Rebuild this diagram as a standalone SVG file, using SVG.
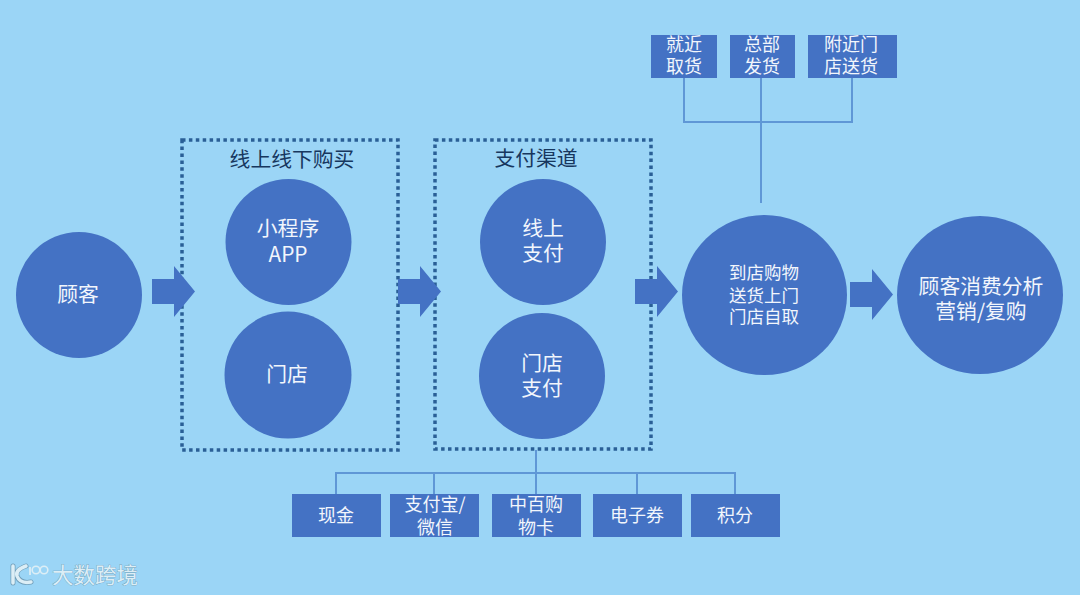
<svg xmlns="http://www.w3.org/2000/svg" width="1080" height="595" viewBox="0 0 1080 595">
<defs>
<style>
.n{fill:#4472C4}
.t{fill:#F2F6FC;font-family:"Noto Sans CJK SC","Noto Sans",sans-serif;text-anchor:middle}
.c{font-size:20.800px}
.s{font-size:18px}
.b{font-size:17.500px}
.h{fill:#17375E;font-family:"Noto Sans CJK SC",sans-serif;font-size:20.800px;text-anchor:middle}
.d{fill:none;stroke:#2A5F96;stroke-width:3.500;stroke-dasharray:3.500 3.400}
.l{fill:none;stroke:#5F97D6;stroke-width:2}
</style>
<path id="arrow" class="n" d="M0 13H22V0L43 25.500L22 51V38H0Z"/>
</defs>
<rect width="1080" height="595" fill="#9BD5F6"/>
<g id="group-buy"><rect class="d" x="182" y="140" width="216" height="310"/><text class="h" x="292" y="167">线上线下购买</text></g>
<g id="group-pay"><rect class="d" x="435" y="140" width="216" height="309"/><text class="h" x="536" y="166">支付渠道</text></g>
<g id="connectors">
<path class="l" d="M536 450V473M336 494V473H735V494M434 473V494M536 473V494M637 473V494"/>
<path class="l" d="M684 78V122H852V78M761 78V203"/>
<use href="#arrow" x="152" y="266"/>
<use href="#arrow" x="398" y="266"/>
<use href="#arrow" x="635" y="266"/>
<use href="#arrow" x="850" y="269"/>
</g>
<g id="customer"><circle class="n" cx="79" cy="295" r="63"/><text class="t c" x="78" y="302">顾客</text></g>
<g id="miniapp"><circle class="n" cx="288.500" cy="242" r="63"/><text class="t c" x="288" y="236">小程序</text><text class="t c" x="288" y="262">APP</text></g>
<g id="store"><circle class="n" cx="288" cy="375" r="63.500"/><text class="t c" x="287" y="382">门店</text></g>
<g id="online-pay"><circle class="n" cx="543" cy="242" r="63"/><text class="t c" x="543" y="236">线上</text><text class="t c" x="543" y="261">支付</text></g>
<g id="store-pay"><circle class="n" cx="542" cy="376" r="63"/><text class="t c" x="542" y="371">门店</text><text class="t c" x="542" y="396">支付</text></g>
<g id="delivery"><ellipse class="n" cx="764.500" cy="295" rx="82.500" ry="80"/><text class="t b" x="764" y="279">到店购物</text><text class="t b" x="764" y="302">送货上门</text><text class="t b" x="764" y="323">门店自取</text></g>
<g id="analysis"><ellipse class="n" cx="980" cy="295" rx="83" ry="79"/><text class="t c" x="981" y="294">顾客消费分析</text><text class="t c" x="981" y="319">营销/复购</text></g>
<g id="cash"><rect class="n" x="292" y="494" width="89" height="43"/><text class="t s" x="336" y="522">现金</text></g>
<g id="alipay"><rect class="n" x="390" y="494" width="89" height="43"/><text class="t s" x="435" y="511">支付宝/</text><text class="t s" x="435" y="534">微信</text></g>
<g id="card"><rect class="n" x="492" y="494" width="89" height="43"/><text class="t s" x="536" y="511">中百购</text><text class="t s" x="536" y="534">物卡</text></g>
<g id="coupon"><rect class="n" x="593" y="494" width="89" height="43"/><text class="t s" x="637" y="522">电子券</text></g>
<g id="points"><rect class="n" x="691" y="494" width="89" height="43"/><text class="t s" x="735" y="522">积分</text></g>
<g id="pickup"><rect class="n" x="651" y="35" width="66" height="43"/><text class="t s" x="684" y="51">就近</text><text class="t s" x="684" y="73">取货</text></g>
<g id="hq"><rect class="n" x="730" y="35" width="65" height="43"/><text class="t s" x="762" y="51">总部</text><text class="t s" x="762" y="73">发货</text></g>
<g id="nearby"><rect class="n" x="808" y="35" width="89" height="43"/><text class="t s" x="851" y="51">附近门</text><text class="t s" x="851" y="73">店送货</text></g>
<g id="watermark">
<path d="M13 566V583M26 566Q15 570 17 576Q20 584 31 582" fill="none" stroke="#6F9DB8" stroke-width="5" stroke-linecap="round"/>
<path d="M13 566V583M26 566Q15 570 17 576Q20 584 31 582" fill="none" stroke="#DCEEF6" stroke-width="3.500" stroke-linecap="round"/>
<path d="M30 567V575" fill="none" stroke="#DCEEF6" stroke-width="1.800"/>
<circle cx="36" cy="570" r="3.800" fill="none" stroke="#DCEEF6" stroke-width="1.600"/>
<circle cx="44" cy="570" r="3.800" fill="none" stroke="#DCEEF6" stroke-width="1.600"/>
<text x="52" y="583" font-family="'Noto Sans CJK SC',sans-serif" font-size="21.500" fill="#DCEEF6" stroke="#6F9DB8" stroke-width="0.700" paint-order="stroke">大数跨境</text>
</g>
</svg>
